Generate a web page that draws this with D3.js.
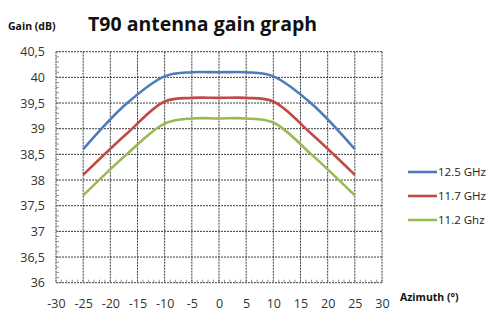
<!DOCTYPE html>
<html><head><meta charset="utf-8">
<script src="https://cdn.jsdelivr.net/npm/d3@7"></script>
<style>body{margin:0;background:#fff}svg{display:block}</style>
</head><body><svg id="c" width="493" height="332"></svg>
<script>
const azimuth = [-25, -17, -10, -5, 0, 5, 10, 17, 25];
const gain125 = [38.6, 39.49, 40.02, 40.1, 40.1, 40.1, 40.02, 39.49, 38.6];
const gain117 = [38.1, 38.9, 39.53, 39.6, 39.6, 39.6, 39.53, 38.9, 38.1];
const gain112 = [37.7, 38.5, 39.1, 39.2, 39.2, 39.2, 39.12, 38.5, 37.7];
const seriesNames = ["12.5 GHz", "11.7 GHz", "11.2 Ghz"];
const seriesColors = ["#4a7ebb", "#be4b48", "#98b954"];
const xTicks = [-30, -25, -20, -15, -10, -5, 0, 5, 10, 15, 20, 25, 30];
const yTicks = [36, 36.5, 37, 37.5, 38, 38.5, 39, 39.5, 40, 40.5];

const svg = d3.select("#c");
const L = 56, R = 382, T = 51.7, B = 282.7;
const x = d3.scaleLinear().domain([-30, 30]).range([L, R]);
const y = d3.scaleLinear().domain([36, 40.5]).range([B, T]);
const font = "'Open Sans', 'Liberation Sans', sans-serif";

// grid
const g = svg.append("g");
g.selectAll(".vx").data(xTicks).join("line")
  .attr("x1", d => x(d)).attr("x2", d => x(d)).attr("y1", T).attr("y2", B)
  .attr("stroke", "#3a3a3a").attr("stroke-width", 1).attr("stroke-dasharray", "2,1");
g.selectAll(".hy").data(yTicks).join("line")
  .attr("x1", L).attr("x2", R).attr("y1", d => y(d)).attr("y2", d => y(d))
  .attr("stroke", "#3a3a3a").attr("stroke-width", 1).attr("stroke-dasharray", "2,1");

// minor ticks
const xMinor = d3.range(-30, 30.01, 1);
g.selectAll(".mx").data(xMinor).join("line")
  .attr("x1", d => x(d)).attr("x2", d => x(d)).attr("y1", B - 3).attr("y2", B)
  .attr("stroke", "#777").attr("stroke-width", 0.8);
const yMinor = d3.range(36, 40.501, 0.1);
g.selectAll(".my").data(yMinor).join("line")
  .attr("x1", L).attr("x2", L + 3).attr("y1", d => y(d)).attr("y2", d => y(d))
  .attr("stroke", "#777").attr("stroke-width", 0.8);

// axes labels via d3 axes
const xAxis = svg.append("g").attr("transform", `translate(0,${B})`)
  .call(d3.axisBottom(x).tickValues(xTicks).tickSize(0).tickPadding(16).tickFormat(d => String(d)));
const fmt = d => String(d).replace(".", ",");
const yAxis = svg.append("g").attr("transform", `translate(${L},0)`)
  .call(d3.axisLeft(y).tickValues(yTicks).tickSize(0).tickPadding(11).tickFormat(fmt));
[xAxis, yAxis].forEach(a => {
  a.select(".domain").remove();
  a.selectAll("text").attr("font-family", font).attr("font-size", 12.5).attr("fill", "#333");
});

// lines
const all = [gain125, gain117, gain112];
const line = d3.line().x((d, i) => x(azimuth[i])).y(d => y(d)).curve(d3.curveCatmullRom.alpha(0.5));
all.forEach((s, k) => {
  svg.append("path").datum(s).attr("d", line).attr("fill", "none")
    .attr("stroke", seriesColors[k]).attr("stroke-width", 2.6).attr("stroke-linejoin", "round");
});

// legend
const legY = [172, 196, 220];
seriesNames.forEach((n, k) => {
  svg.append("line").attr("x1", 408).attr("x2", 437).attr("y1", legY[k]).attr("y2", legY[k])
    .attr("stroke", seriesColors[k]).attr("stroke-width", 2.6);
  svg.append("text").attr("x", 438).attr("y", legY[k]).attr("dy", "0.35em")
    .attr("font-family", font).attr("font-size", 11.5).attr("fill", "#222").text(n);
});

// titles
svg.append("text").attr("x", 88).attr("y", 31).attr("font-family", font)
  .attr("font-weight", "bold").attr("font-size", 19.5).attr("fill", "#111").text("T90 antenna gain graph");
svg.append("text").attr("x", 8).attr("y", 30).attr("font-family", font)
  .attr("font-weight", "bold").attr("font-size", 10.5).attr("fill", "#111").text("Gain (dB)");
svg.append("text").attr("x", 400).attr("y", 297).attr("dy", "0.35em").attr("font-family", font)
  .attr("font-weight", "bold").attr("font-size", 10.5).attr("fill", "#111").text("Azimuth (°)");
</script></body></html>
